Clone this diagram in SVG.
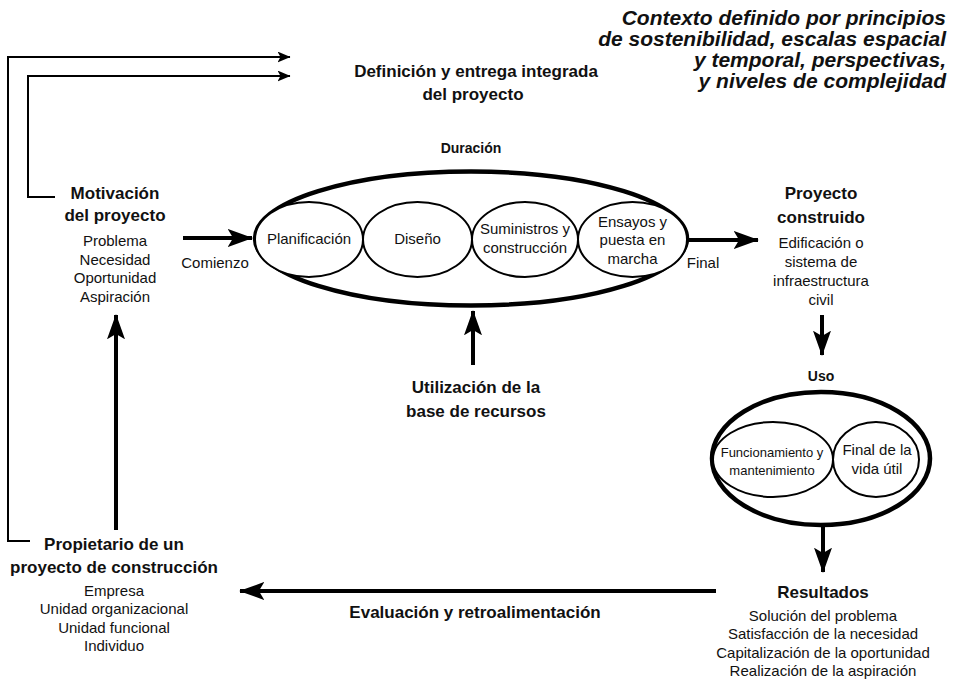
<svg xmlns="http://www.w3.org/2000/svg" width="953" height="680" viewBox="0 0 953 680">
  <style>
    text { font-family: "Liberation Sans", Arial, Helvetica, sans-serif; fill: #111; text-anchor: middle; }
    .h { font-weight: bold; font-size: 17px; }
    .hs { font-weight: bold; font-size: 14px; }
    .b { font-size: 15px; }
    .s { font-size: 13px; }
    .ctx { font-weight: bold; font-style: italic; font-size: 21px; text-anchor: end; }
    .thin { fill: none; stroke: #000; stroke-width: 2; }
    .thick { fill: none; stroke: #000; stroke-width: 4; }
    .outer { fill: #fff; stroke: #000; stroke-width: 4.5; }
    .inner { fill: #fff; stroke: #000; stroke-width: 2; }
  </style>
  <defs>
    <!-- notched arrowhead for the heavy flow arrows -->
    <marker id="ah" viewBox="0 0 14 10" refX="13.5" refY="5" markerWidth="6.3" markerHeight="4.5" orient="auto" markerUnits="strokeWidth">
      <path d="M0,0 L14,5 L0,10 L3,5 Z" fill="#000"/>
    </marker>
    <!-- smaller arrowhead for the thin context lines -->
    <marker id="ahs" viewBox="0 0 13 11" refX="12.5" refY="5.5" markerWidth="6.5" markerHeight="5.5" orient="auto" markerUnits="strokeWidth">
      <path d="M0,0 L13,5.5 L0,11 L3,5.5 Z" fill="#000"/>
    </marker>
  </defs>

  <!-- context note -->
  <g id="contexto">
    <text class="ctx" x="946" y="25">Contexto definido por principios</text>
    <text class="ctx" x="946" y="46">de sostenibilidad, escalas espacial</text>
    <text class="ctx" x="946" y="67">y temporal, perspectivas,</text>
    <text class="ctx" x="946" y="88">y niveles de complejidad</text>
  </g>

  <g id="definicion">
    <text class="h" x="476" y="77">Definición y entrega integrada</text>
    <text class="h" x="473" y="100">del proyecto</text>
  </g>

  <g id="motivacion">
    <text class="h" x="115" y="199">Motivación</text>
    <text class="h" x="115" y="221">del proyecto</text>
    <text class="b" x="115" y="246">Problema</text>
    <text class="b" x="115" y="265">Necesidad</text>
    <text class="b" x="115" y="283">Oportunidad</text>
    <text class="b" x="115" y="302">Aspiración</text>
  </g>

  <!-- project delivery phases -->
  <g id="ejecucion">
    <text class="hs" x="471" y="153">Duración</text>
    <ellipse class="outer" cx="471" cy="238.5" rx="216" ry="67"/>
    <ellipse class="inner" cx="309" cy="239.5" rx="54" ry="37.5"/>
    <ellipse class="inner" cx="417.5" cy="239.5" rx="54.5" ry="37.5"/>
    <ellipse class="inner" cx="525" cy="239.5" rx="53" ry="37.5"/>
    <ellipse class="inner" cx="632.5" cy="239.5" rx="54.5" ry="37.5"/>
    <text class="b" x="309" y="244">Planificación</text>
    <text class="b" x="417.5" y="244">Diseño</text>
    <text class="b" x="525" y="234">Suministros y</text>
    <text class="b" x="525" y="253">construcción</text>
    <text class="b" x="632.5" y="227">Ensayos y</text>
    <text class="b" x="632.5" y="245">puesta en</text>
    <text class="b" x="632.5" y="264">marcha</text>
  </g>

  <g id="recursos">
    <text class="h" x="476" y="393">Utilización de la</text>
    <text class="h" x="476" y="417">base de recursos</text>
  </g>

  <g id="construido">
    <text class="h" x="821" y="199">Proyecto</text>
    <text class="h" x="821" y="223">construido</text>
    <text class="b" x="821" y="248">Edificación o</text>
    <text class="b" x="821" y="267">sistema de</text>
    <text class="b" x="821" y="286">infraestructura</text>
    <text class="b" x="821" y="305">civil</text>
  </g>

  <g id="uso">
    <text class="hs" x="821" y="381">Uso</text>
    <ellipse class="outer" cx="821" cy="458.5" rx="109" ry="66.5"/>
    <ellipse class="inner" cx="773" cy="459.5" rx="60" ry="37.5"/>
    <ellipse class="inner" cx="876" cy="459.5" rx="43" ry="37.5"/>
    <text class="s" x="772" y="457">Funcionamiento y</text>
    <text class="s" x="772" y="475">mantenimiento</text>
    <text class="b" x="877" y="455">Final de la</text>
    <text class="b" x="877" y="474">vida útil</text>
  </g>

  <g id="resultados">
    <text class="h" x="823" y="598">Resultados</text>
    <text class="b" x="823" y="621">Solución del problema</text>
    <text class="b" x="823" y="639">Satisfacción de la necesidad</text>
    <text class="b" x="823" y="658">Capitalización de la oportunidad</text>
    <text class="b" x="823" y="676">Realización de la aspiración</text>
  </g>

  <g id="propietario">
    <text class="h" x="114" y="550">Propietario de un</text>
    <text class="h" x="114" y="573">proyecto de construcción</text>
    <text class="b" x="114" y="596">Empresa</text>
    <text class="b" x="114" y="614">Unidad organizacional</text>
    <text class="b" x="114" y="633">Unidad funcional</text>
    <text class="b" x="114" y="651">Individuo</text>
  </g>

  <!-- connectors -->
  <g id="conectores">
    <polyline class="thin" points="30,541 8,541 8,57 290,57" marker-end="url(#ahs)"/>
    <polyline class="thin" points="55,197 28,197 28,76 290,76" marker-end="url(#ahs)"/>
    <line class="thick" x1="183" y1="238" x2="252" y2="238" marker-end="url(#ah)"/>
    <line class="thick" x1="686" y1="240" x2="758" y2="240" marker-end="url(#ah)"/>
    <line class="thick" x1="473" y1="365" x2="473" y2="311" marker-end="url(#ah)"/>
    <line class="thick" x1="822" y1="315" x2="822" y2="355" marker-end="url(#ah)"/>
    <line class="thick" x1="823" y1="525" x2="823" y2="572" marker-end="url(#ah)"/>
    <line class="thick" x1="716" y1="591" x2="240" y2="591" marker-end="url(#ah)"/>
    <line class="thick" x1="116" y1="530" x2="116" y2="315" marker-end="url(#ah)"/>
    <text class="b" x="215" y="268">Comienzo</text>
    <text class="b" x="703" y="268">Final</text>
    <text class="h" x="475" y="618">Evaluación y retroalimentación</text>
  </g>
</svg>
